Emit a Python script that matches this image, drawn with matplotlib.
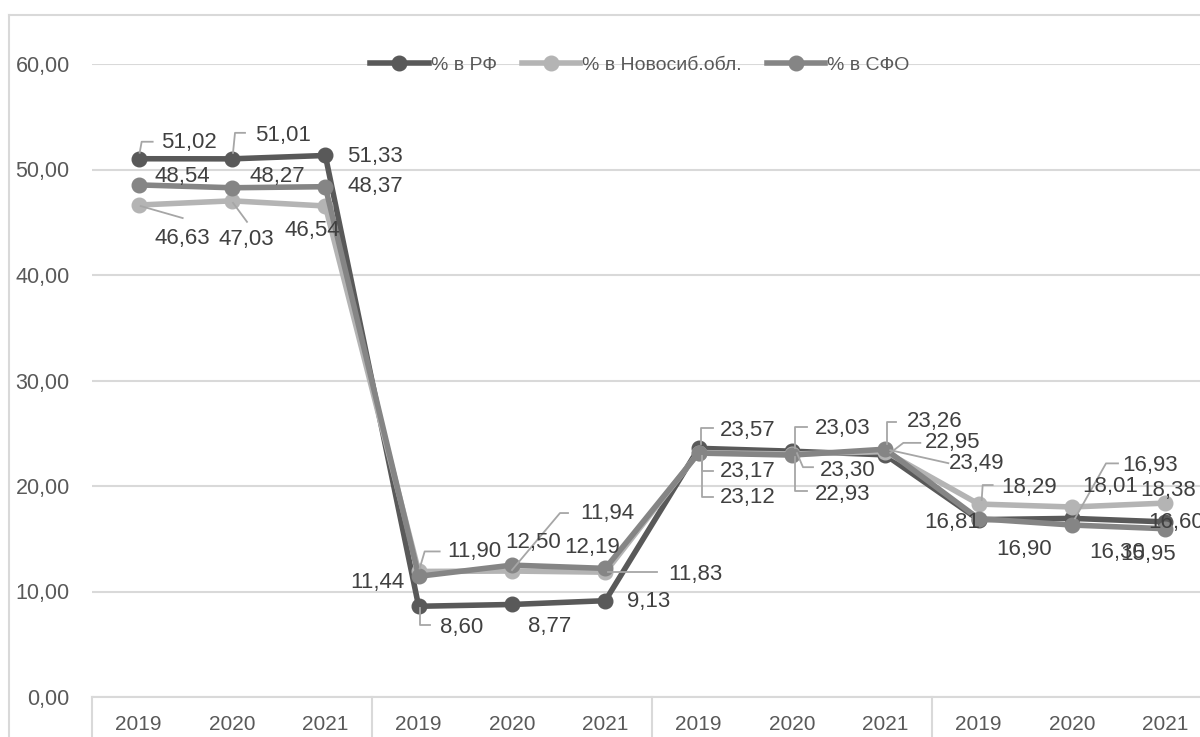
import matplotlib
matplotlib.use("Agg")
import matplotlib.pyplot as plt
from matplotlib.lines import Line2D
from matplotlib.transforms import IdentityTransform
import numpy as np

# data
years = ["2019", "2020", "2021"] * 4
rf = [51.02, 51.01, 51.33, 8.60, 8.77, 9.13, 23.57, 23.30, 22.95, 16.81, 16.93, 16.60]
nsk = [46.63, 47.03, 46.54, 11.90, 11.94, 11.83, 23.17, 23.03, 23.26, 18.29, 18.01, 18.38]
sfo = [48.54, 48.27, 48.37, 11.44, 12.50, 12.19, 23.12, 22.93, 23.49, 16.90, 16.30, 15.95]
names = ["% в РФ", "% в Новосиб.обл.", "% в СФО"]

colors = ["#595959", "#b4b4b4", "#858585"]
TXT = "#404040"
GRID = "#d9d9d9"
LEAD = "#a6a6a6"
FONT = "Liberation Sans"

# label offsets from the point (pixels, y downwards) and leader paths
rf_off = [(50, -16), (51, -23), (50, 1), (43, 21), (38, 22), (43, 1),
          (49, -18), (56, 19), (67, -12), (-26, 3), (78, -53), (11, 1)]
rf_lead = [[(1, -6), (3, -17), (14, -17)], [(1, -6), (3, -26), (13, -26)], None,
           [(1, 2), (1, 19), (11, 19)], None, None,
           [(2, -4), (2, -20), (14, -20)], [(5, 2), (11, 16), (21, 16)],
           [(5, -2), (18, -12), (35, -12)], None, [(3, 0), (34, -55), (46, -55)], None]
nsk_off = [(44, 33), (14, 39), (-13, 24), (56, -20), (95, -58), (90, 2),
           (49, 19), (51, -26), (49, -30), (50, -17), (38, -20), (3, -13)]
nsk_lead = [[(2, 1), (44, 13)], [(1, 2), (15, 21)], None,
            [(1, -3), (6, -20), (21, -20)], [(0, -1), (48, -58), (56, -58)], [(3, 0), (52, 0)],
            [(3, 3), (3, 18), (14, 18)], [(3, -6), (3, -27), (15, -27)],
            [(2, -8), (2, -30), (11, -30)], [(3, -4), (4, -19), (14, -19)], None, None]
sfo_off = [(44, -8), (45, -11), (50, 0), (-41, 6), (21, -23), (-13, -21),
           (49, 44), (51, 39), (91, 14), (45, 31), (45, 27), (-17, 26)]
sfo_lead = [None, None, None, None, None, None,
            [(3, 3), (3, 44), (14, 44)], [(3, 2), (3, 36), (15, 36)],
            [(5, 1), (63, 14)], None, None, None]

W, H = 1200, 737
fig = plt.figure(figsize=(W / 100, H / 100), dpi=100)
ax = fig.add_axes([92 / W, 40 / H, 1120 / W, 633 / H])

x = np.arange(len(years))
series = [rf, nsk, sfo]
for vals, c, nm in zip(series, colors, names):
    ax.plot(x, vals, color=c, lw=4, marker="o", ms=10.5, label=nm,
            solid_joinstyle="round", clip_on=False, zorder=3)

ax.set_xlim(-0.5, 11.5)
ax.set_ylim(0, 60)
ax.set_yticks(np.arange(0, 61, 10))
ax.set_yticklabels([f"{v:.2f}".replace(".", ",") for v in np.arange(0, 61, 10)],
                   fontsize=15.5, color="#595959", family=FONT)
ax.tick_params(axis="y", length=0, pad=16)
ax.set_xticks(x)
ax.set_xticklabels(years, fontsize=15, color="#595959", family=FONT)
ax.tick_params(axis="x", length=0, pad=13)
ax.grid(axis="y", color=GRID, lw=1.5)
ax.set_axisbelow(True)
for s in ["top", "right", "left"]:
    ax.spines[s].set_visible(False)
ax.spines["bottom"].set_color(GRID)
ax.spines["bottom"].set_linewidth(1.5)

# group separators below the axis
for sx in [-0.5, 2.5, 5.5, 8.5]:
    ax.plot([sx, sx], [0, -0.2], color=GRID, lw=1.5, clip_on=False,
            transform=ax.get_xaxis_transform())

# chart border
fig.add_artist(Line2D([9 / W, 9 / W], [0, 1 - 15 / H], color=GRID, lw=1.5,
                      transform=fig.transFigure))
fig.add_artist(Line2D([9 / W, 1], [1 - 15 / H, 1 - 15 / H], color=GRID, lw=1.5,
                      transform=fig.transFigure))

# data labels
fig.canvas.draw()
for vals, offs, leads in zip(series, [rf_off, nsk_off, sfo_off], [rf_lead, nsk_lead, sfo_lead]):
    for i, v in enumerate(vals):
        px, py = ax.transData.transform((i, v))
        dx, dy = offs[i]
        fig.text(px + dx, py - dy, f"{v:.2f}".replace(".", ","), transform=IdentityTransform(),
                 ha="center", va="center", fontsize=16, color=TXT, family=FONT, zorder=5)
        if leads[i]:
            lx = [px + a for a, b in leads[i]]
            ly = [py - b for a, b in leads[i]]
            fig.add_artist(Line2D(lx, ly, color=LEAD, lw=1.3, transform=IdentityTransform(),
                                  zorder=4))

leg = ax.legend(loc="center", bbox_to_anchor=(640 / W, 1 - 65 / H), bbox_transform=fig.transFigure,
                ncol=3, frameon=False, handlelength=3.0, handletextpad=0.1, columnspacing=1.3,
                prop={"family": FONT, "size": 14})
for t in leg.get_texts():
    t.set_color("#595959")

fig.savefig("out.png", dpi=100)
